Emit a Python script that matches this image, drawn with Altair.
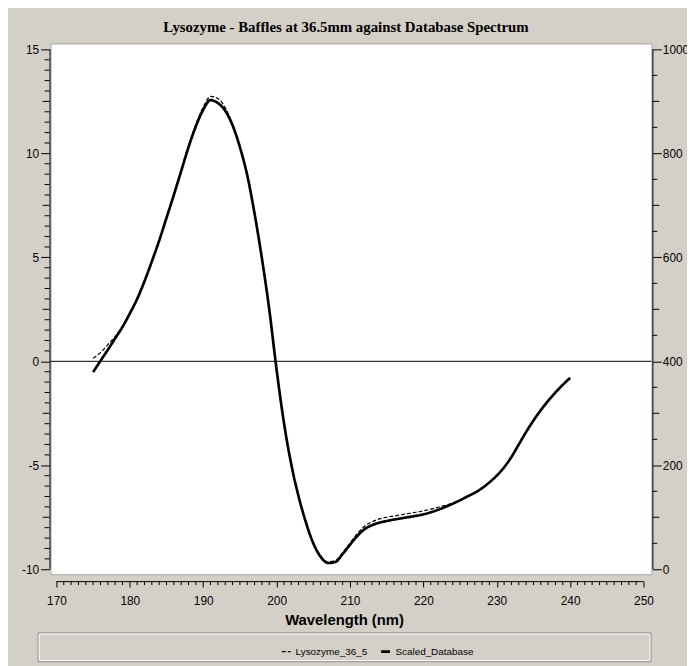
import altair as alt
import pandas as pd

# ---------------- data ----------------
title_text = "Lysozyme - Baffles at 36.5mm against Database Spectrum"
x_title = "Wavelength (nm)"
series_names = ["Lysozyme_36_5", "Scaled_Database"]

wavelength = list(range(175, 241))

lysozyme_36_5 = [
    0.15, 0.42, 0.80, 1.20, 1.70, 2.33, 3.03, 3.87, 4.82, 5.82,
    6.92, 8.02, 9.18, 10.35, 11.40, 12.22, 12.74, 12.64, 12.20, 11.40,
    10.32, 8.95, 7.10, 4.92, 2.48, -0.42, -2.97, -4.97, -6.50, -7.73,
    -8.72, -9.35, -9.64, -9.58, -9.20, -8.74, -8.28, -7.93, -7.72, -7.58,
    -7.50, -7.44, -7.38, -7.32, -7.26, -7.19, -7.11, -7.02, -6.93, -6.82,
    -6.67, -6.50, -6.32, -6.10, -5.82, -5.50, -5.10, -4.60, -4.00, -3.40,
    -2.85, -2.35, -1.90, -1.50, -1.13, -0.80,
]

scaled_database = [
    -0.52, 0.02, 0.55, 1.10, 1.65, 2.30, 3.00, 3.85, 4.80, 5.80,
    6.90, 8.00, 9.15, 10.30, 11.30, 12.10, 12.56, 12.42, 12.05, 11.35,
    10.30, 8.95, 7.10, 4.95, 2.50, -0.40, -2.95, -4.95, -6.50, -7.75,
    -8.75, -9.40, -9.70, -9.65, -9.27, -8.82, -8.40, -8.07, -7.88, -7.76,
    -7.68, -7.61, -7.55, -7.49, -7.43, -7.36, -7.26, -7.14, -7.00, -6.85,
    -6.68, -6.50, -6.32, -6.10, -5.82, -5.50, -5.10, -4.60, -4.00, -3.40,
    -2.85, -2.35, -1.90, -1.50, -1.13, -0.80,
]

x_ticks = [170, 180, 190, 200, 210, 220, 230, 240, 250]
y_ticks = [-10, -5, 0, 5, 10, 15]
right_ticks = [0, 200, 400, 600, 800, 1000]

# ---------------- layout (pixels) ----------------
W, H = 608, 537                # white plot area
X_LO_PX, X_HI_PX = 6, 600      # where 170 and 250 sit inside the plot
Y_HI_PX, Y_LO_PX = 6, 532      # where 15 and -10 sit inside the plot
BG = "#D4D0C8"
FONT = "Liberation Sans"

x_per = (X_HI_PX - X_LO_PX) / (x_ticks[-1] - x_ticks[0])
x_dom = [x_ticks[0] - X_LO_PX / x_per, x_ticks[-1] + (W - X_HI_PX) / x_per]
y_per = (Y_LO_PX - Y_HI_PX) / (y_ticks[-1] - y_ticks[0])
y_dom = [y_ticks[0] - (H - Y_LO_PX) / y_per, y_ticks[-1] + Y_HI_PX / y_per]
# right axis: -10 -> 0, 15 -> 1000
r_per = (right_ticks[-1] - right_ticks[0]) / (y_ticks[-1] - y_ticks[0])
r_dom = [right_ticks[0] + (y_dom[0] - y_ticks[0]) * r_per,
         right_ticks[0] + (y_dom[1] - y_ticks[0]) * r_per]

x_scale = alt.Scale(domain=x_dom, nice=False, zero=False)
y_scale = alt.Scale(domain=y_dom, nice=False, zero=False)
r_scale = alt.Scale(domain=r_dom, nice=False, zero=False)

df = pd.DataFrame({
    "wavelength": wavelength * 2,
    "value": lysozyme_36_5 + scaled_database,
    "series": [series_names[0]] * len(wavelength) + [series_names[1]] * len(wavelength),
})
one = pd.DataFrame({"k": [0]})

# minor tick positions
x_minor = [v for v in range(x_ticks[0], x_ticks[-1] + 1) if v % 10]
y_mid = [k / 2 for k in range(-20, 31) if k % 5 == 0 and k % 10]
y_minor = [k / 2 for k in range(-20, 31) if k % 5]
r_mid = [v for v in range(0, 1001, 50) if v % 100 == 0 and v % 200]
r_minor = [v for v in range(0, 1001, 50) if v % 100]

legend = alt.Legend(
    title=None, orient="none", legendX=233, legendY=609, direction="horizontal",
    symbolType="stroke", symbolSize=81, symbolStrokeColor="black",
    labelFont=FONT, labelFontSize=10, labelColor="black", labelOffset=4,
    columnPadding=8, padding=0,
)

x_axis = alt.Axis(
    values=x_ticks, format="d", orient="bottom", offset=7, domain=False, grid=False,
    tickSize=6, tickColor="black", tickWidth=1,
    labelFont=FONT, labelFontSize=12, labelColor="black", labelPadding=9,
    labelFlush=False, labelOverlap=False,
    title=x_title, titleFont=FONT, titleFontSize=15, titleFontWeight="bold",
    titleColor="black", titleX=297, titleY=39, titleAlign="center",
    titleBaseline="middle",
)
y_axis = alt.Axis(
    values=y_ticks, orient="left", offset=1, domain=False, grid=False,
    tickSize=9, tickColor="black", tickWidth=1,
    labelFont=FONT, labelFontSize=12, labelColor="black", labelPadding=2,
    labelExpr="'' + datum.value", labelFlush=False, labelOverlap=False, title=None,
)
r_axis = alt.Axis(
    values=right_ticks, orient="right", offset=1, domain=False, grid=False,
    tickSize=9, tickColor="black", tickWidth=1,
    labelFont=FONT, labelFontSize=12, labelColor="black", labelPadding=1,
    labelExpr="'' + datum.value", labelFlush=False, labelOverlap=False, title=None,
)

# ---------------- left-scale group ----------------
zero_line = alt.Chart(one).mark_rule(color="black", strokeWidth=1).encode(
    y=alt.datum(0, scale=y_scale)
)

x_domain_line = alt.Chart(one).mark_rule(color="black", strokeWidth=1).encode(
    x=alt.datum(x_ticks[0]), x2=alt.datum(x_ticks[-1]), y=alt.value(H + 7.5)
)
left_domain_line = alt.Chart(one).mark_rule(color="black", strokeWidth=1).encode(
    y=alt.datum(y_ticks[0]), y2=alt.datum(y_ticks[-1]), x=alt.value(-0.5)
)
right_domain_line = alt.Chart(one).mark_rule(color="black", strokeWidth=1).encode(
    y=alt.datum(y_ticks[0]), y2=alt.datum(y_ticks[-1]), x=alt.value(W + 1.5)
)

x_minor_ticks = alt.Chart(pd.DataFrame({"t": x_minor})).mark_rule(
    color="black", strokeWidth=1
).encode(x=alt.X("t:Q"), y=alt.value(H + 7), y2=alt.value(H + 11))

y_mid_ticks = alt.Chart(pd.DataFrame({"t": y_mid})).mark_rule(
    color="black", strokeWidth=1
).encode(y=alt.Y("t:Q"), x=alt.value(-1), x2=alt.value(-8))

y_minor_ticks = alt.Chart(pd.DataFrame({"t": y_minor})).mark_rule(
    color="black", strokeWidth=1
).encode(y=alt.Y("t:Q"), x=alt.value(-1), x2=alt.value(-6))

lines = alt.Chart(df).mark_line(color="black", interpolate="monotone").encode(
    x=alt.X("wavelength:Q", scale=x_scale, axis=x_axis),
    y=alt.Y("value:Q", scale=y_scale, axis=y_axis),
    strokeDash=alt.StrokeDash(
        "series:N",
        scale=alt.Scale(domain=series_names, range=[[4, 2], [1, 0]]),
        legend=legend,
    ),
    strokeWidth=alt.StrokeWidth(
        "series:N",
        scale=alt.Scale(domain=series_names, range=[1.2, 2.7]),
        legend=legend,
    ),
    detail="series:N",
)

left_group = alt.layer(
    zero_line, x_domain_line, left_domain_line, right_domain_line,
    x_minor_ticks, y_mid_ticks, y_minor_ticks, lines,
)

# ---------------- right-scale group ----------------
right_axis_layer = alt.Chart(pd.DataFrame({"r": right_ticks})).mark_point(
    opacity=0
).encode(y=alt.Y("r:Q", scale=r_scale, axis=r_axis))

r_mid_ticks = alt.Chart(pd.DataFrame({"r": r_mid})).mark_rule(
    color="black", strokeWidth=1
).encode(y=alt.Y("r:Q"), x=alt.value(W + 1), x2=alt.value(W + 8))

r_minor_ticks = alt.Chart(pd.DataFrame({"r": r_minor})).mark_rule(
    color="black", strokeWidth=1
).encode(y=alt.Y("r:Q"), x=alt.value(W + 1), x2=alt.value(W + 6))

right_group = alt.layer(right_axis_layer, r_mid_ticks, r_minor_ticks)

# ---------------- legend frame ----------------
box_outer = alt.Chart(one).mark_rect(
    fill=BG, stroke="#808080", strokeWidth=1
).encode(
    x=alt.value(-12.5), x2=alt.value(607.5), y=alt.value(596.5), y2=alt.value(625.5)
)
box_inner = alt.Chart(one).mark_rect(
    fill=BG, stroke="white", strokeWidth=1
).encode(
    x=alt.value(-11.5), x2=alt.value(606.5), y=alt.value(597.5), y2=alt.value(624.5)
)

chart = alt.layer(
    box_outer, box_inner, left_group, right_group
).resolve_scale(
    y="independent"
).properties(
    width=W,
    height=H,
    background=BG,
    padding={"left": 43, "top": 32, "right": 36, "bottom": 89},
    autosize=alt.AutoSizeParams(type="none"),
    title=alt.TitleParams(
        text=title_text, font="Liberation Serif", fontSize=15, fontWeight="bold",
        color="black", anchor="middle", dx=-5, offset=9,
    ),
).configure_view(
    fill="white", stroke="#a8a8a8", strokeWidth=1
)

chart.save("out.html", embed_options={"renderer": "svg", "actions": False})
